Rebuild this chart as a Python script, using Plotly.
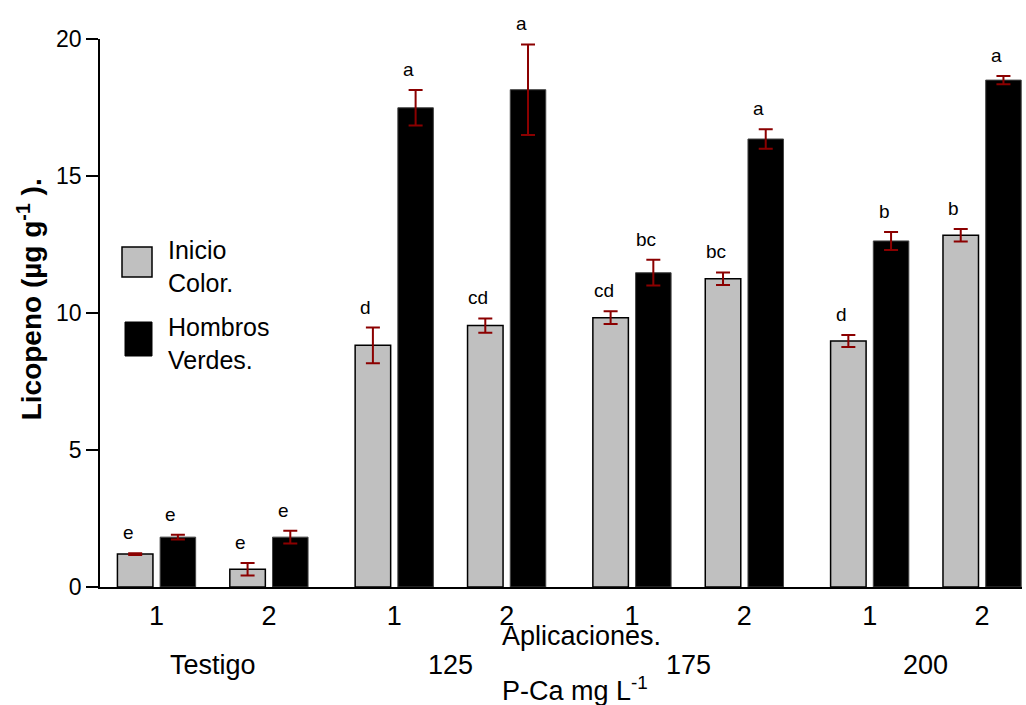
import plotly.graph_objects as go

# ---------------- data ----------------
treatments = ["Testigo", "125", "175", "200"]
applications = ["1", "2"]
inicio_color = [1.20, 0.65, 8.82, 9.54, 9.83, 11.25, 8.98, 12.84]
inicio_err = [0.03, 0.23, 0.65, 0.26, 0.23, 0.23, 0.22, 0.23]
inicio_letters = ["e", "e", "d", "cd", "cd", "bc", "d", "b"]
hombros_verdes = [1.82, 1.82, 17.49, 18.15, 11.47, 16.35, 12.63, 18.50]
hombros_err = [0.09, 0.23, 0.65, 1.65, 0.47, 0.36, 0.33, 0.15]
hombros_letters = ["e", "e", "a", "a", "bc", "a", "b", "a"]

# ---------------- layout helpers ----------------
GAP = 0.115      # extra gap between treatments
OFF = 0.19       # offset of each bar from group centre
BW = 0.316       # bar width
n = len(treatments) * len(applications)
centers = [i + (i // len(applications)) * GAP for i in range(n)]
x_grey = [c - OFF for c in centers]
x_black = [c + OFF for c in centers]
ticktext = [applications[i % len(applications)] for i in range(n)]

FONT = "Liberation Sans, Arial, sans-serif"
ERRC = "#8B0000"

fig = go.Figure()
fig.add_trace(go.Bar(
    x=x_grey, y=inicio_color, width=BW, name="Inicio Color.",
    marker=dict(color="#C0C0C0", line=dict(color="black", width=1.5)),
    error_y=dict(type="data", array=inicio_err, color=ERRC, thickness=2, width=7),
    showlegend=False,
))
fig.add_trace(go.Bar(
    x=x_black, y=hombros_verdes, width=BW, name="Hombros Verdes.",
    marker=dict(color="black", line=dict(color="#444444", width=1)),
    error_y=dict(type="data", array=hombros_err, color=ERRC, thickness=2, width=7),
    showlegend=False,
))

annotations = []
for xs, vals, errs, letters in [(x_grey, inicio_color, inicio_err, inicio_letters),
                                (x_black, hombros_verdes, hombros_err, hombros_letters)]:
    for x, v, e, t in zip(xs, vals, errs, letters):
        annotations.append(dict(x=x, y=v + e, text=t, showarrow=False,
                                xref="x", yref="y", yanchor="bottom", yshift=8, xshift=-7,
                                font=dict(size=19, color="black", family=FONT)))

# treatment labels
for k, t in enumerate(treatments):
    mid = (centers[2 * k] + centers[2 * k + 1]) / 2
    annotations.append(dict(x=mid, y=-0.1423, xref="x", yref="paper", text=t,
                            showarrow=False, yanchor="middle",
                            font=dict(size=27, color="black", family=FONT)))

mid_all = (centers[0] + centers[-1]) / 2
annotations.append(dict(x=mid_all, y=-0.0894, xref="x", yref="paper", text="Aplicaciones.",
                        showarrow=False, yanchor="middle", xshift=12,
                        font=dict(size=27, color="black", family=FONT)))
annotations.append(dict(x=mid_all, y=-0.186, xref="x", yref="paper", text="P-Ca mg L<sup>-1</sup>",
                        showarrow=False, yanchor="middle", xshift=6,
                        font=dict(size=27, color="black", family=FONT)))

# y-axis title
annotations.append(dict(x=-0.0759, y=0.525, xref="paper", yref="paper",
                        text="<b>Licopeno (µg g<sup>-1</sup> ).</b>", textangle=-90,
                        showarrow=False, xanchor="center", yanchor="middle",
                        font=dict(size=28, color="black", family=FONT)))

# manual legend (paper coordinates)
W, H = 1026 - 100 - 4, 705 - 39 - 118
def px(x):
    return (x - 100) / W
def py(y):
    return (587 - y) / H

shapes = [
    dict(type="rect", xref="paper", yref="paper", x0=px(122), x1=px(152), y0=py(277), y1=py(247),
         fillcolor="#C0C0C0", line=dict(color="black", width=1.5)),
    dict(type="rect", xref="paper", yref="paper", x0=px(125), x1=px(152), y0=py(356), y1=py(322),
         fillcolor="black", line=dict(color="black", width=1)),
]
for txt, yy in [("Inicio", 250), ("Color.", 283), ("Hombros", 327), ("Verdes.", 360)]:
    annotations.append(dict(x=px(166), y=py(yy), xref="paper", yref="paper", text=txt,
                            showarrow=False, xanchor="left", yanchor="middle",
                            font=dict(size=25, color="black", family=FONT)))

fig.update_layout(
    width=1026, height=705,
    margin=dict(l=100, r=4, t=39, b=118),
    paper_bgcolor="white", plot_bgcolor="white",
    barmode="overlay",
    font=dict(family=FONT, color="black"),
    annotations=annotations, shapes=shapes,
    showlegend=False,
)
fig.update_xaxes(range=[-0.503, 7.70], tickvals=centers, ticktext=ticktext,
                 showline=True, linecolor="black", linewidth=1.5, ticks="",
                 showgrid=False, zeroline=False,
                 tickfont=dict(size=27, family=FONT, color="black"), ticklabelstandoff=4)
fig.update_yaxes(range=[0, 20], tickvals=[0, 5, 10, 15, 20],
                 showline=True, linecolor="black", linewidth=1.5,
                 ticks="outside", ticklen=12, tickwidth=1.5, tickcolor="black",
                 showgrid=False, zeroline=False,
                 tickfont=dict(size=23, family=FONT, color="black"))

fig.write_html("out.html", config={"displayModeBar": False},
               post_script="document.body.style.margin='0';document.body.style.overflow='hidden';")
